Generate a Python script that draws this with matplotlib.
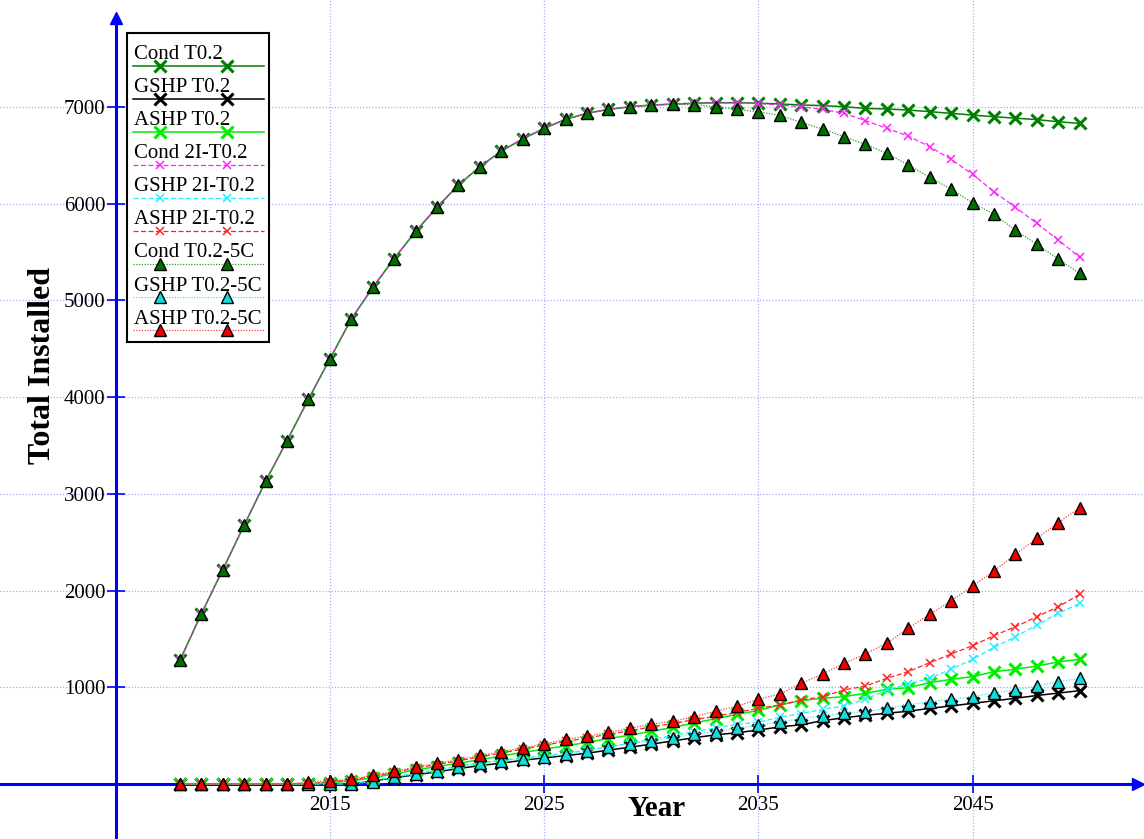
import matplotlib
matplotlib.use("Agg")
import matplotlib.pyplot as plt
from matplotlib.patches import Rectangle

plt.rcParams['font.family'] = ['Liberation Serif', 'DejaVu Serif']

# data
years = list(range(2008, 2051))

cond_t02 = [1280, 1760, 2216, 2678, 3131, 3551, 3980, 4396, 4808, 5135, 5433, 5714,
            5963, 6195, 6383, 6545, 6670, 6780, 6873, 6935, 6976, 7003, 7021, 7030,
            7040, 7045, 7045, 7040, 7032, 7021, 7015, 7003, 6986, 6980, 6969, 6952,
            6935, 6917, 6900, 6885, 6870, 6848, 6831]
gshp_t02 = [0, 0, 0, 0, 0, 0, 0, 0, 0, 30, 65, 95, 125, 160, 190, 215, 245, 270, 293,
            318, 350, 380, 412, 445, 478, 508, 530, 558, 590, 612, 655, 685, 710, 732,
            752, 782, 807, 834, 860, 886, 915, 940, 965]
ashp_t02 = [0, 0, 0, 0, 0, 0, 0, 15, 30, 65, 105, 145, 180, 215, 250, 290, 325, 360,
            395, 430, 470, 505, 545, 585, 630, 675, 720, 760, 817, 862, 886, 903, 938,
            979, 996, 1048, 1082, 1110, 1161, 1186, 1220, 1262, 1289]
cond_2i = [1280, 1760, 2216, 2678, 3131, 3551, 3980, 4396, 4808, 5135, 5433, 5714,
           5963, 6195, 6383, 6545, 6670, 6780, 6873, 6935, 6976, 7003, 7021, 7030,
           7038, 7042, 7042, 7035, 7021, 7003, 6976, 6935, 6859, 6780, 6700, 6590,
           6459, 6304, 6124, 5963, 5797, 5625, 5446]
gshp_2i = [0, 0, 0, 0, 0, 0, 0, 0, 0, 35, 75, 110, 145, 185, 220, 245, 270, 290, 320,
           350, 385, 420, 460, 500, 540, 580, 615, 640, 690, 728, 772, 807, 876, 972,
           1034, 1093, 1186, 1289, 1413, 1523, 1644, 1765, 1868]
ashp_2i = [0, 0, 0, 0, 0, 0, 0, 25, 40, 80, 120, 165, 200, 240, 280, 320, 360, 400,
           440, 475, 515, 550, 590, 625, 665, 700, 740, 782, 817, 869, 903, 972, 1013,
           1093, 1161, 1255, 1344, 1430, 1534, 1627, 1730, 1833, 1961]
cond_5c = [1280, 1760, 2216, 2678, 3131, 3551, 3980, 4396, 4808, 5135, 5433, 5714,
           5963, 6195, 6383, 6545, 6670, 6780, 6873, 6935, 6976, 7003, 7021, 7028,
           7025, 7003, 6976, 6950, 6915, 6841, 6773, 6693, 6614, 6521, 6400, 6273,
           6149, 6010, 5890, 5728, 5580, 5428, 5280]
gshp_5c = [0, 0, 0, 0, 0, 0, 0, 0, 0, 24, 69, 103, 134, 175, 215, 240, 262, 280, 308,
           338, 385, 415, 446, 480, 515, 541, 576, 605, 638, 679, 703, 731, 748, 782,
           817, 851, 876, 903, 944, 972, 1013, 1058, 1093]
ashp_5c = [0, 0, 0, 0, 0, 0, 20, 34, 48, 90, 130, 176, 214, 250, 295, 333, 374, 414,
           460, 494, 533, 576, 619, 648, 696, 752, 805, 876, 930, 1041, 1137, 1248,
           1344, 1458, 1610, 1754, 1895, 2047, 2202, 2375, 2540, 2702, 2857]

labels = ["Cond T0.2", "GSHP T0.2", "ASHP T0.2",
          "Cond 2I-T0.2", "GSHP 2I-T0.2", "ASHP 2I-T0.2",
          "Cond T0.2-5C", "GSHP T0.2-5C", "ASHP T0.2-5C"]
series = [cond_t02, gshp_t02, ashp_t02, cond_2i, gshp_2i, ashp_2i,
          cond_5c, gshp_5c, ashp_5c]

x_ticks = [2015, 2025, 2035, 2045]
y_ticks = [1000, 2000, 3000, 4000, 5000, 6000, 7000]

big_x = dict(marker='x', markersize=8.5, markeredgewidth=2.2, linestyle='-', linewidth=1.1)
small_x = dict(marker='x', markersize=6, markeredgewidth=1.1, linestyle=(0, (4, 2)), linewidth=0.9)
tri = dict(marker='^', markersize=8.5, markeredgewidth=1.0, markeredgecolor='black',
           linestyle=(0, (1, 1.2)), linewidth=0.9)
styles = [
    dict(big_x, color='#008000'),
    dict(big_x, color='black'),
    dict(big_x, color='#00ee00'),
    dict(small_x, color='#ff22ff'),
    dict(small_x, color='#22eeff'),
    dict(small_x, color='#ff2222'),
    dict(tri, color='#339933', markerfacecolor='#007000'),
    dict(tri, color='#33eeff', markerfacecolor='#11dddd'),
    dict(tri, color='#ff4444', markerfacecolor='#ee0000'),
]

W, H = 1144, 839
fig = plt.figure(figsize=(W / 100, H / 100), dpi=100)
ax = fig.add_axes([0, 0, 1, 1])

for vals, lab, st in zip(series, labels, styles):
    ax.plot(years, vals, label=lab, zorder=3, **st)

ax.set_xlim(1999.6, 2053.0)
ax.set_ylim(-569, 8107)

# axes through the origin, drawn in blue with arrow heads
for side in ['top', 'right']:
    ax.spines[side].set_visible(False)
ax.spines['left'].set_position(('data', 2005))
ax.spines['bottom'].set_position(('data', 0))
for side in ['left', 'bottom']:
    ax.spines[side].set_color('#0000ff')
    ax.spines[side].set_linewidth(2.2)
ax.spines['left'].set_bounds(-569, 7900)
ax.spines['bottom'].set_bounds(1999.6, 2052.4)
ax.plot(1 - 6 / W, 0, '>', color='#0000ff', markersize=9, transform=ax.get_yaxis_transform(),
        clip_on=False, zorder=4)
ax.plot(2005, 1 - 18 / H, '^', color='#0000ff', markersize=9,
        transform=ax.get_xaxis_transform(), clip_on=False, zorder=4)

ax.set_xticks(x_ticks)
ax.set_yticks(y_ticks)
ax.tick_params(direction='inout', length=13, width=1.2, color='#0000ff',
               labelcolor='black', labelsize=15, pad=1)
ax.tick_params(axis='x', pad=2)
ax.grid(True, color='#aaaaff', linestyle=(0, (1, 1.5)), linewidth=0.9, zorder=0)
ax.set_axisbelow(True)

ax.set_xlabel("Year", fontsize=21, fontweight='bold')
ax.xaxis.label.set_va('center')
ax.xaxis.set_label_coords(657 / W, 1 - 808 / H)
ax.set_ylabel("Total Installed", fontsize=23, fontweight='bold')
ax.yaxis.label.set_va('center')
ax.yaxis.set_label_coords(43 / W, 1 - 366 / H)

# legend box with the text above each line sample
def fx(px):
    return px / W


def fy(py):
    return 1 - py / H


ax.add_patch(Rectangle((fx(127), fy(342)), fx(269) - fx(127), fy(33) - fy(342),
                       transform=ax.transAxes, facecolor='white', edgecolor='black',
                       linewidth=1.5, zorder=5, clip_on=False))
for i, (lab, st) in enumerate(zip(labels, styles)):
    ly = 65.7 + 33.05 * i
    ax.text(fx(134), fy(ly - 6.5), lab, fontsize=15, va='baseline', ha='left',
            transform=ax.transAxes, zorder=6)
    ax.plot([fx(133), fx(264)], [fy(ly), fy(ly)], transform=ax.transAxes,
            clip_on=False, zorder=6, marker='None',
            **{k: v for k, v in st.items() if not k.startswith('marker')})
    ax.plot([fx(160), fx(227)], [fy(ly), fy(ly)], transform=ax.transAxes,
            clip_on=False, zorder=6, linestyle='None',
            **{k: v for k, v in st.items() if k not in ('linestyle', 'linewidth')})

fig.savefig("out.png", dpi=100)
